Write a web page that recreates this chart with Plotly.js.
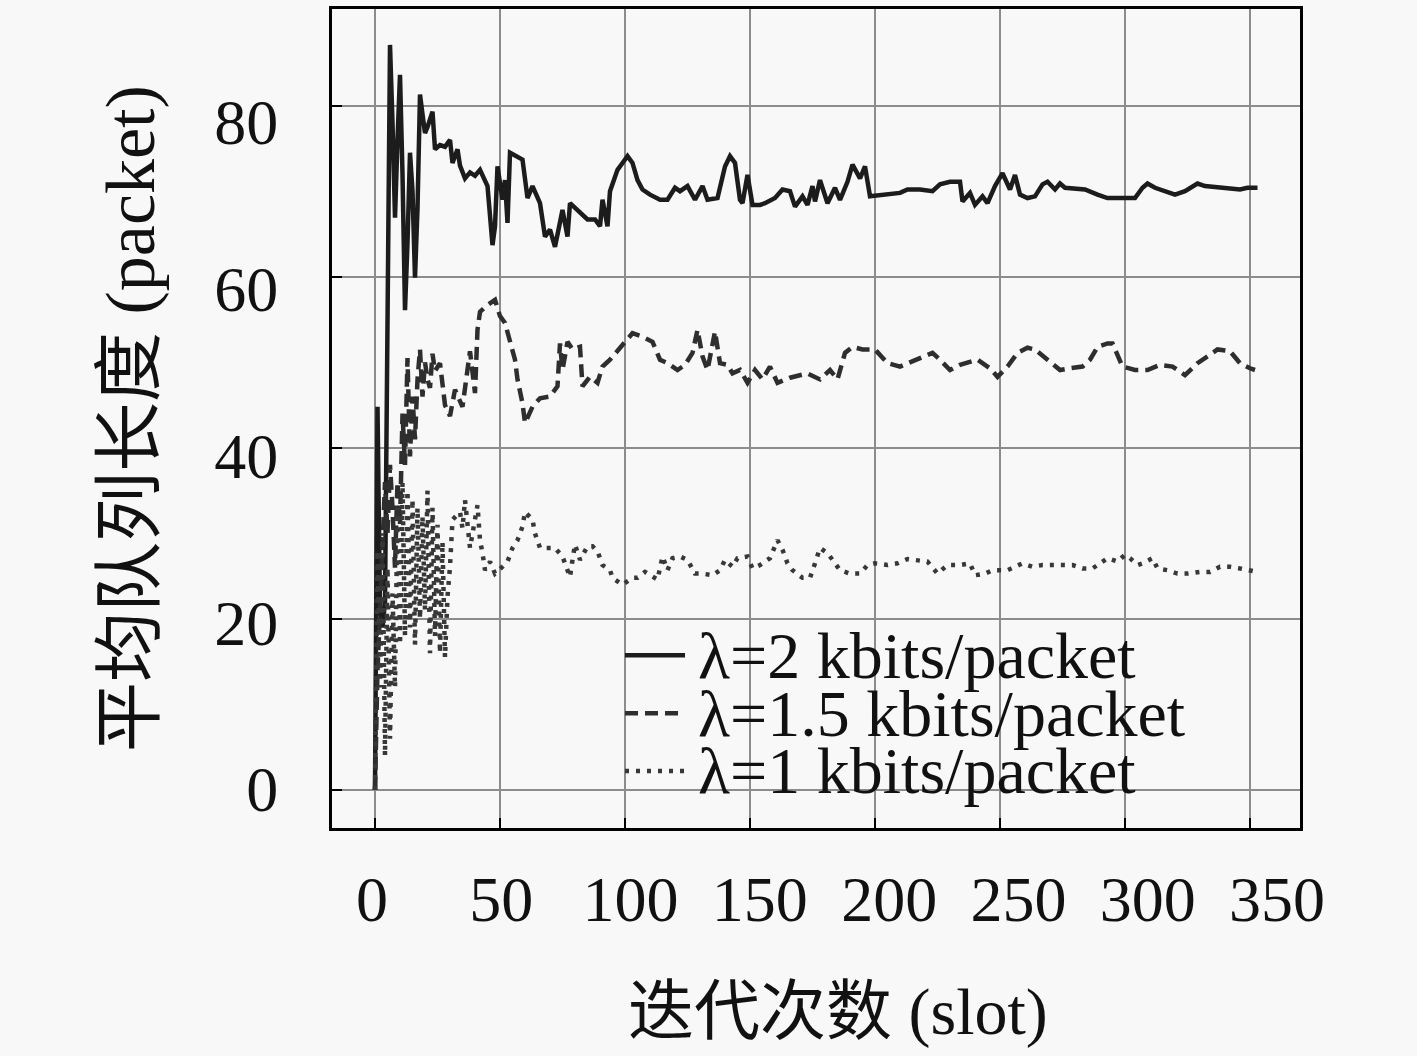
<!DOCTYPE html>
<html>
<head>
<meta charset="utf-8">
<script src="https://cdn.plot.ly/plotly-3.0.1.min.js"></script>
<style>
  html, body { margin: 0; padding: 0; background: #f8f8f8; }
  #graph { width: 1417px; height: 1056px; }
</style>
</head>
<body>
<div id="graph"></div>
<script>
// series names, as printed in the legend
const seriesNames = ["λ=2 kbits/packet", "λ=1.5 kbits/packet", "λ=1 kbits/packet"];

const xTicks = [0, 50, 100, 150, 200, 250, 300, 350];
const yTicks = [0, 20, 40, 60, 80];

// λ = 2 (solid)
const slots2 = [0,1,2,3,4,5,6,7,8,9,10,11,12,13,14,15,16,17,18,19,20,21,22,23,24,26,28,30,31,33,34,36,38,40,42,45,47,48,49,51,52,53,54,57,59,61,63,66,68,70,72,75,77,78,81,83,85,88,90,91,93,94,97,99,101,103,105,107,110,114,117,120,122,125,128,131,133,137,140,142,144,146,147,149,151,154,156,160,163,166,168,171,173,175,176,178,180,181,184,186,189,191,194,196,198,203,210,213,218,223,226,230,234,235,238,240,243,245,248,251,254,256,258,261,264,267,269,272,274,276,284,289,293,299,304,307,309,312,316,320,324,327,329,332,339,346,349,353];
const queue2 = [0,44.8,21,19,22,62,87.1,78,66.9,76,83.6,72,56.1,64,74.5,70,59.9,68,81.3,79,76.8,77.5,78.5,79.3,74.9,75.4,75.2,76.0,73.3,74.9,73,71.5,72.2,71.8,72.5,70.6,63.7,65.9,72.9,69.0,71.3,66.3,74.5,74.1,73.7,69.2,70.6,68.6,64.7,65.5,63.5,67.8,64.7,68.6,67.8,67.4,66.7,66.7,65.9,69.0,65.9,70.0,72.5,73.3,74.1,73.3,71.3,70.2,69.6,69.0,69.0,70.4,70.0,70.6,69.0,70.6,69.0,69.2,72.9,74.1,73.3,69.0,68.6,71.9,68.4,68.4,68.6,69.2,70.2,70.0,68.2,69.4,68.4,70.6,68.8,71.3,69.4,68.6,70.4,69.0,71.1,73.1,71.5,72.9,69.4,69.6,69.8,70.2,70.2,70.0,70.8,71.1,71.1,68.8,69.8,68.4,69.4,68.6,70.6,72.1,70.2,71.9,69.6,69.2,69.4,70.8,71.1,70.2,70.9,70.4,70.2,69.6,69.2,69.2,69.2,70.4,70.9,70.4,70.0,69.6,70.0,70.6,70.9,70.6,70.4,70.2,70.4,70.4];

// λ = 1.5 (dashed)
const slots15 = [0,1,2,3,4,5,6,7,8,9,10,11,12,13,14,15,16,17,18,19,20,21,22,23,24,26,27,28,30,32,35,37,38,40,41,42,45,48,50,52,54,56,57,59,60,63,66,70,73,74,75,77,79,82,83,86,89,91,94,98,101,103,107,111,114,117,121,124,127,129,131,133,136,138,141,143,146,149,152,155,158,161,166,173,178,182,185,188,191,195,200,205,210,216,223,226,230,234,241,246,249,253,257,261,264,269,274,278,283,286,289,293,295,299,304,309,314,319,324,329,333,337,342,346,350,352];
const queue15 = [0,14,21,28,36,30,38,33,26,36,31,44,38,50.5,39,46,41,48,51.5,46,50,48,47,51,49,49.9,47.2,45,43.7,46.8,44.8,49.1,51.3,46.4,53.8,55.9,56.7,57.3,55.4,54.6,52.2,50.3,48.0,45.2,42.9,44.8,45.8,46.0,47.2,52.2,49.1,52.4,51.5,51.8,47.2,48.3,47.6,49.5,50.3,51.7,52.8,53.4,53.0,52.4,50.3,49.9,49.1,49.7,51.1,53.8,50.7,49.1,53.6,49.9,49.7,48.7,49.1,47.6,49.1,48.0,49.5,47.6,48.2,48.7,48.0,49.1,48.0,51.1,51.8,51.5,51.5,49.9,49.5,50.3,51.1,50.3,49.1,49.7,50.3,49.3,48.3,49.5,51.1,51.7,51.5,50.3,49.1,49.3,49.5,50.3,51.8,52.2,52.2,49.5,49.1,49.1,49.7,49.5,48.5,49.9,50.7,51.5,51.3,49.9,49.3,49.1];

// λ = 1 (dotted)
const slots1 = [0,1,2,3,4,5,6,7,8,9,10,11,12,13,14,15,16,17,18,19,20,21,22,23,24,25,26,27,28,29,30,31,34,35,36,38,41,42,43,44,46,48,51,53,55,57,59,60,63,64,66,69,72,75,77,78,79,80,82,85,87,89,91,94,95,99,103,105,108,111,113,115,117,119,122,125,128,131,135,138,140,143,145,149,151,154,158,161,163,165,167,171,174,176,178,181,183,186,190,194,197,200,205,209,213,217,221,225,229,234,238,240,244,247,253,259,263,267,271,275,279,283,287,290,293,297,300,302,305,307,311,313,317,321,325,330,334,338,342,346,349,353];
const queue1 = [0,28,12,30,4,26,6,23,12,33,17,36,18,35,19,34,17,33,20,32,21,35,16,33,18,31,16,29,15.5,22.6,26.1,31.6,32.5,30.6,33.9,28.3,33.3,29.2,27.7,25.7,26.7,25.3,26.1,26.7,28.3,29.2,30.8,32.5,31.6,30.0,28.3,28.3,28.3,27.3,25.7,24.9,26.9,28.7,26.9,28.5,28.5,27.9,26.3,25.7,24.8,24.0,24.8,24.8,25.5,24.9,24.6,27.3,25.7,27.1,27.3,26.9,25.3,25.3,25.1,25.7,26.9,26.1,27.1,27.3,25.9,26.3,27.1,29.2,28.1,26.5,25.7,24.8,24.8,26.5,28.3,27.7,26.9,25.7,25.3,25.3,26.3,26.5,26.3,26.5,27.0,26.9,26.7,25.3,26.3,26.3,26.5,25.1,25.3,25.7,25.7,26.5,26.1,26.3,26.3,26.3,26.3,25.9,25.9,26.5,27.1,26.7,27.5,27.1,26.3,26.5,27.1,25.9,25.7,25.3,25.3,25.5,25.5,26.1,26.1,25.9,25.7,25.5];

const serif = "Liberation Serif, Noto Sans CJK SC, serif";
const lineStyles = [
  {color: "#1c1c1c", width: 4.5, dash: "solid"},
  {color: "#2e2e2e", width: 4.5, dash: "13px,7px"},
  {color: "#383838", width: 4.5, dash: "4px,7px"}
];

var data = [
  {x: slots2, y: queue2, name: seriesNames[0], type: "scatter", mode: "lines", line: lineStyles[0]},
  {x: slots15, y: queue15, name: seriesNames[1], type: "scatter", mode: "lines", line: lineStyles[1]},
  {x: slots1, y: queue1, name: seriesNames[2], type: "scatter", mode: "lines", line: lineStyles[2]},
  // empty trace so the label axes get drawn
  {x: [], y: [], xaxis: "x2", yaxis: "y2", showlegend: false, hoverinfo: "skip"}
];

/* legend drawn by hand: sample line + text per series */
var legendRows = [0.211, 0.140, 0.0696];
var shapes = [], annotations = [];
for (var i = 0; i < seriesNames.length; i++) {
  shapes.push({
    type: "line", xref: "paper", yref: "paper",
    x0: 0.3027, x1: 0.3647, y0: legendRows[i], y1: legendRows[i],
    line: lineStyles[i]
  });
  annotations.push({
    xref: "paper", yref: "paper", x: 0.376, y: legendRows[i],
    xanchor: "left", yanchor: "middle", showarrow: false,
    text: seriesNames[i], font: {family: serif, size: 66, color: "#111"}
  });
}
annotations.push({
  xref: "paper", yref: "paper", x: 0.5227, y: -0.2247,
  xanchor: "center", yanchor: "middle", showarrow: false,
  text: "迭代次数 (slot)", font: {family: serif, size: 66, color: "#111"}
});
annotations.push({
  xref: "paper", yref: "paper", x: -0.2087, y: 0.5006, textangle: -90,
  xanchor: "center", yanchor: "middle", showarrow: false,
  text: "平均队列长度 (packet)", font: {family: serif, size: 70, color: "#111"}
});

var layout = {
  width: 1417,
  height: 1056,
  margin: {l: 332, r: 117, t: 9, b: 228},
  paper_bgcolor: "#f8f8f8",
  plot_bgcolor: "#f8f8f8",
  showlegend: false,
  xaxis: {
    range: [-17.2, 370], tickvals: xTicks, showticklabels: false,
    ticks: "inside", ticklen: 10, tickwidth: 2, tickcolor: "#000",
    showgrid: true, gridcolor: "#8c8c8c", gridwidth: 2, zeroline: false,
    showline: true, linecolor: "#000", linewidth: 3, mirror: true, fixedrange: true
  },
  yaxis: {
    range: [-4.44, 91.3], tickvals: yTicks, showticklabels: false,
    ticks: "inside", ticklen: 10, tickwidth: 2, tickcolor: "#000",
    showgrid: true, gridcolor: "#8c8c8c", gridwidth: 2, zeroline: false,
    showline: true, linecolor: "#000", linewidth: 3, mirror: true, fixedrange: true
  },
  // label axes: the printed tick labels sit a little off the grid
  xaxis2: {
    overlaying: "x", anchor: "y", side: "bottom",
    range: [-15.47, 358.9], tickvals: xTicks,
    ticks: "outside", ticklen: 15, tickcolor: "rgba(0,0,0,0)",
    showgrid: false, zeroline: false, showline: false, fixedrange: true,
    tickfont: {family: serif, size: 64, color: "#111"}
  },
  yaxis2: {
    overlaying: "y", anchor: "x", side: "left",
    range: [-4.68, 93.5], tickvals: yTicks,
    ticks: "outside", ticklen: 40, tickcolor: "rgba(0,0,0,0)",
    showgrid: false, zeroline: false, showline: false, fixedrange: true,
    tickfont: {family: serif, size: 64, color: "#111"}
  },
  shapes: shapes,
  annotations: annotations
};

var config = {displayModeBar: false, staticPlot: true};
Plotly.newPlot("graph", data, layout, config);
</script>
</body>
</html>
